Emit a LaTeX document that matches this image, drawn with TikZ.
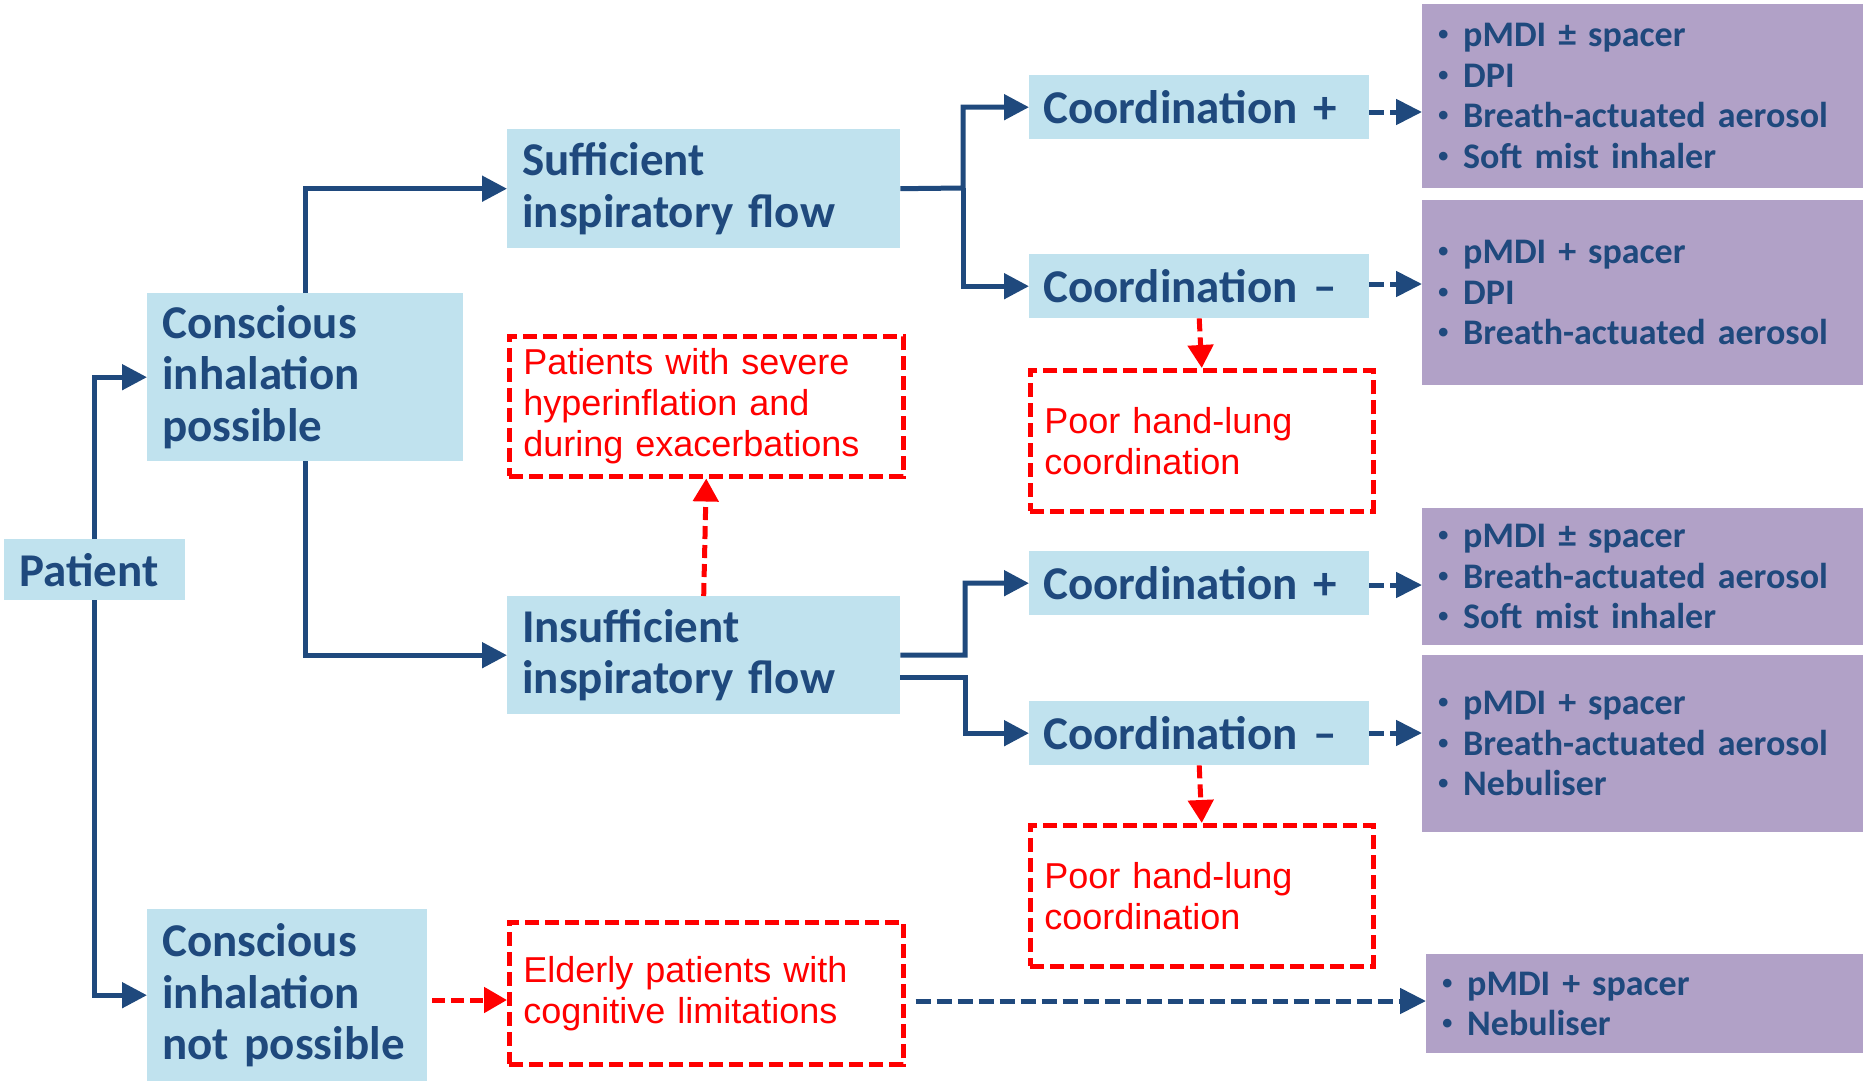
\documentclass[tikz,border=0pt]{standalone}
\usepackage{fontspec}
\setmainfont{Carlito}
\newfontfamily\redfont{Liberation Sans}
\usetikzlibrary{arrows.meta}
\definecolor{boxblue}{HTML}{C0E2EE}
\definecolor{boxpurple}{HTML}{B1A1C7}
\definecolor{inkblue}{HTML}{1F497D}
\definecolor{alertred}{HTML}{FF0000}
\tikzset{
  decision/.style={fill=boxblue, text=inkblue, anchor=north west, align=left,
    inner xsep=15pt, inner ysep=0pt,
    font=\fontsize{47}{51.5}\selectfont\bfseries},
  device/.style={fill=boxpurple, text=inkblue, anchor=north west, align=left,
    inner xsep=16pt, inner ysep=0pt,
    font=\fontsize{36}{40.5}\selectfont\bfseries},
  caution/.style={draw=alertred, dash pattern=on 14pt off 6pt, line width=4.5pt,
    text=alertred, anchor=north west, align=left, inner xsep=14pt, inner ysep=0pt,
    font=\redfont\fontsize{36}{41}\selectfont},
  flow/.style={draw=inkblue, line width=5pt, -{Triangle[length=25pt,width=25pt]}},
  option/.style={draw=inkblue, line width=5pt, dash pattern=on 15pt off 6pt,
    -{Triangle[length=26pt,width=25pt]}},
  warn/.style={draw=alertred, line width=5pt, dash pattern=on 13pt off 6pt,
    -{Triangle[length=23pt,width=25pt]}},
}
% bullet item: small raised dot, then the text
\newcommand{\itm}[1]{\makebox[25pt][l]{\raisebox{2pt}{\redfont\fontsize{30}{30}\selectfont •}}#1}
\begin{document}
\begin{tikzpicture}[x=1pt,y=-1pt]
\useasboundingbox (0,0) rectangle (1865,1081);

% decision boxes
\node[decision, text width=151pt, minimum height=61pt] (pat) at (4,539) {Patient};
\node[decision, text width=286pt, minimum height=168pt] (cip) at (147,293) {Conscious\\inhalation\\possible};
\node[decision, text width=250pt, minimum height=172pt] (cinp) at (147,909) {Conscious\\inhalation\\not possible};
\node[decision, text width=363pt, minimum height=119pt] (suf) at (507,129) {Sufficient\\inspiratory flow};
\node[decision, text width=363pt, minimum height=118pt] (ins) at (507,596) {Insufficient\\inspiratory flow};
\node[decision, text width=312pt, minimum height=64pt, inner xsep=14pt] (cp1) at (1029,75) {Coordination +};
\node[decision, text width=312pt, minimum height=64pt, inner xsep=14pt] (cm1) at (1029,254) {Coordination –};
\node[decision, text width=312pt, minimum height=64pt, inner xsep=14pt] (cp2) at (1029,551) {Coordination +};
\node[decision, text width=312pt, minimum height=64pt, inner xsep=14pt] (cm2) at (1029,701) {Coordination –};

% caution boxes
\node[caution, text width=366pt, minimum height=140pt] (sev) at (507,334) {Patients with severe\\hyperinflation and\\during exacerbations};
\node[caution, text width=366pt, minimum height=142pt] (eld) at (507,920) {Elderly patients with\\cognitive limitations};
\node[caution, text width=315pt, minimum height=141pt] (poor1) at (1028,368) {Poor hand-lung\\coordination};
\node[caution, text width=315pt, minimum height=141pt] (poor2) at (1028,823) {Poor hand-lung\\coordination};

% device boxes
\node[device, text width=409pt, minimum height=184pt] (pur1) at (1422,4) {\itm{pMDI ± spacer}\\\itm{DPI}\\\itm{Breath-actuated aerosol}\\\itm{Soft mist inhaler}};
\node[device, text width=409pt, minimum height=185pt] (pur2) at (1422,200) {\itm{pMDI + spacer}\\\itm{DPI}\\\itm{Breath-actuated aerosol}};
\node[device, text width=409pt, minimum height=137pt] (pur3) at (1422,508) {\itm{pMDI ± spacer}\\\itm{Breath-actuated aerosol}\\\itm{Soft mist inhaler}};
\node[device, text width=409pt, minimum height=177pt] (pur4) at (1422,655) {\itm{pMDI + spacer}\\\itm{Breath-actuated aerosol}\\\itm{Nebuliser}};
\node[device, text width=405pt, minimum height=99pt] (pur5) at (1426,954) {\itm{pMDI + spacer}\\\itm{Nebuliser}};

% junction points
\coordinate (j1) at (963,188);
\coordinate (j2) at (965,655);
\coordinate (j3) at (965,677);

% main decision flow
\draw[flow] (pat.north) |- (cip.west);
\draw[flow] (pat.south) |- (cinp.west);
\draw[flow] (cip.north) |- (suf.west);
\draw[flow] (cip.south) |- (ins.west);
\draw[flow] (suf.east) -- (j1) |- (cp1.west);
\draw[flow] (j1) |- (cm1.west);
\draw[flow] (ins.east) -- (j2) |- (cp2.west);
\draw[flow] (ins.east |- j3) -- (j3) |- (cm2.west);

% device recommendations
\draw[option] (cp1.east |- 0,112) -- (pur1.west |- 0,112);
\draw[option] (cm1.east |- 0,284) -- (pur2.west |- 0,284);
\draw[option] (cp2.east |- 0,585) -- (pur3.west |- 0,585);
\draw[option] (cm2.east |- 0,733) -- (pur4.west |- 0,733);
\draw[option, shorten <=10pt] (eld.east |- 0,1001) -- (pur5.west |- 0,1001);

% cautions
\draw[warn] (cm1.south) -- (poor1.north);
\draw[warn] (cm2.south) -- (poor2.north);
\draw[warn] (ins.north) -- (sev.south);
\draw[warn, shorten <=5pt] (cinp.east |- 0,1000) -- (eld.west |- 0,1000);
\end{tikzpicture}
\end{document}
